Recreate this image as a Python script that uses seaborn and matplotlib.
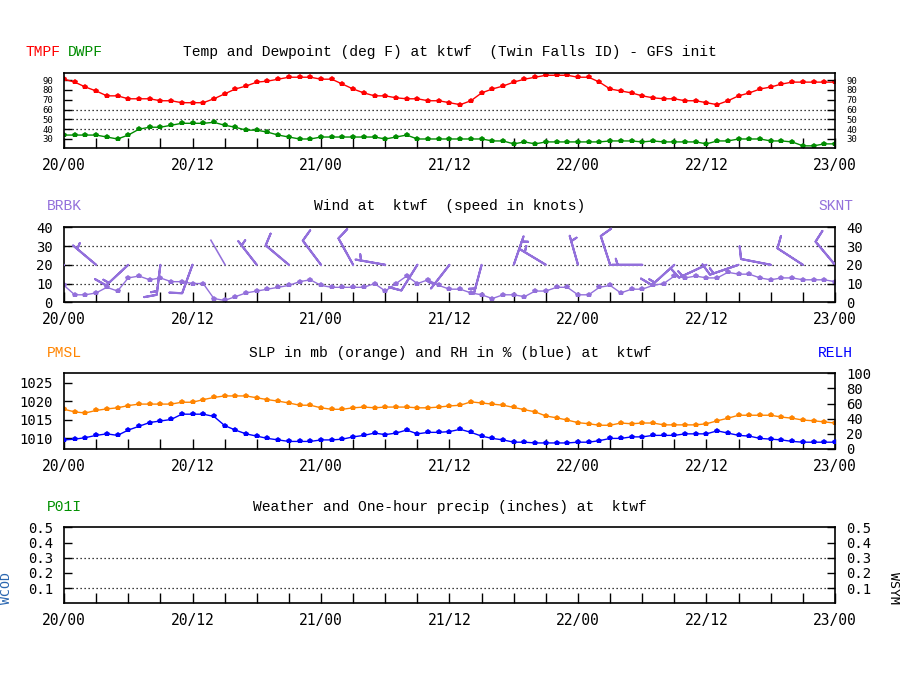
import numpy as np
import matplotlib
matplotlib.use("Agg")
import matplotlib.pyplot as plt
import seaborn as sns

# ---------------- data ----------------
hours = list(range(73))
tick_hours = [0, 12, 24, 36, 48, 60, 72]
tick_labels = ["20/00", "20/12", "21/00", "21/12", "22/00", "22/12", "23/00"]

tmpf = [91, 88, 83, 79, 74, 74, 71, 71, 71, 69, 69, 67, 67, 67, 71, 76, 81, 84, 88, 89,
        91, 93, 93, 93, 91, 91, 86, 81, 77, 74, 74, 72, 71, 71, 69, 69, 67, 65, 69, 77,
        81, 84, 88, 91, 93, 95, 95, 95, 93, 93, 88, 81, 79, 77, 74, 72, 71, 71, 69, 69,
        67, 65, 69, 74, 77, 81, 83, 86, 88, 88, 88, 88, 88]
dwpf = [34, 34, 34, 34, 32, 30, 34, 40, 42, 42, 44, 46, 46, 46, 47, 44, 42, 39, 39, 37,
        34, 32, 30, 30, 32, 32, 32, 32, 32, 32, 30, 32, 34, 30, 30, 30, 30, 30, 30, 30,
        28, 28, 25, 27, 25, 27, 27, 27, 27, 27, 27, 28, 28, 28, 27, 28, 27, 27, 27, 27,
        25, 28, 28, 30, 30, 30, 28, 28, 27, 23, 23, 25, 25]
sknt = [9, 4, 4, 5, 8, 6, 13, 14, 12, 13, 11, 11, 10, 10, 2, 1, 3, 5, 6, 7,
        8, 9, 11, 12, 9, 8, 8, 8, 8, 10, 6, 10, 14, 10, 12, 9, 7, 7, 5, 4,
        2, 4, 4, 3, 6, 6, 8, 8, 4, 4, 8, 9, 5, 7, 7, 9, 10, 14, 13, 14,
        13, 13, 16, 15, 15, 13, 12, 13, 13, 12, 12, 12, 11]
# wind direction (deg, from) for the barbs plotted every 3 hours
wdir_3h = [270, 310, 227, 187, 200, 330, 322, 310, 323, 331, 280, 212, 218,
           195, 19, 301, 344, 342, 270, 228, 245, 251, 281, 303, 320]
pmsl = [1017.8, 1017.1, 1016.8, 1017.5, 1017.9, 1018.2, 1018.8, 1019.2, 1019.2, 1019.2,
        1019.2, 1019.7, 1019.7, 1020.4, 1021.0, 1021.4, 1021.4, 1021.4, 1020.9, 1020.4,
        1020.0, 1019.5, 1018.9, 1018.9, 1018.2, 1017.8, 1017.8, 1018.2, 1018.4, 1018.2,
        1018.4, 1018.4, 1018.4, 1018.2, 1018.2, 1018.4, 1018.7, 1018.9, 1019.8, 1019.5,
        1019.2, 1018.9, 1018.3, 1017.7, 1017.1, 1016.0, 1015.5, 1014.9, 1014.2, 1013.9,
        1013.5, 1013.5, 1014.1, 1013.9, 1014.1, 1014.1, 1013.6, 1013.6, 1013.6, 1013.6,
        1013.9, 1014.7, 1015.4, 1016.2, 1016.2, 1016.2, 1016.2, 1015.7, 1015.4, 1014.9,
        1014.7, 1014.4, 1014.1]
relh = [12, 13, 15, 18, 20, 18, 25, 30, 35, 37, 39, 46, 46, 46, 43, 31, 25, 20, 17, 14,
        12, 10, 10, 10, 12, 12, 13, 16, 18, 21, 19, 21, 25, 20, 22, 22, 23, 26, 22, 17,
        14, 12, 9, 9, 8, 8, 8, 8, 9, 9, 11, 14, 14, 16, 16, 18, 18, 18, 20, 20,
        20, 24, 21, 18, 17, 14, 13, 12, 10, 9, 9, 9, 9]
# one-hour precip: none forecast (panel empty)
p01i = []

temp_ticks = [30, 40, 50, 60, 70, 80, 90]
wind_ticks = [0, 10, 20, 30, 40]
slp_ticks = [1010, 1015, 1020, 1025]
rh_ticks = [0, 20, 40, 60, 80, 100]
pcp_ticks = [0.1, 0.2, 0.3, 0.4, 0.5]

# ---------------- style ----------------
sns.set_style("white")
plt.rcParams["font.family"] = ["DejaVu Sans Mono"]
TITLE_FONT = ["Liberation Mono", "DejaVu Sans Mono"]

RED = "#ff0000"
GREEN = "#008c00"
PURPLE = "#9370db"
ORANGE = "#ff8400"
BLUE = "#0000ff"
WCOD_C = "#2a66b0"

W, H = 900, 700
fig = plt.figure(figsize=(9, 7), dpi=100)
fig.patch.set_facecolor("white")


def panel(top, bottom):
    return fig.add_axes([64 / W, 1 - bottom / H, 771 / W, (bottom - top) / H])


def style(ax, ylim, yticks, ysize=10):
    ax.set_xlim(0, 72)
    ax.set_ylim(*ylim)
    ax.set_xticks(tick_hours)
    ax.set_xticklabels(tick_labels)
    ax.set_xticks(list(range(0, 73, 3)), minor=True)
    ax.set_yticks(yticks)
    ax.tick_params(axis="x", which="both", direction="in", length=7, width=1,
                   bottom=True, top=False, labelsize=10.5, pad=7, colors="black")
    ax.tick_params(axis="y", which="both", direction="in", length=6, width=1,
                   left=True, right=False, labelsize=ysize, pad=8, colors="black")
    for s in ax.spines.values():
        s.set_color("black")
        s.set_linewidth(1.2)
    ax.set_xlabel("")
    ax.set_ylabel("")
    ax.set_facecolor("white")


def twin(ax, ylim, yticks, ysize=10):
    t = ax.twinx()
    t.set_ylim(*ylim)
    t.set_yticks(yticks)
    t.tick_params(axis="y", direction="in", length=6, width=1, right=True,
                  labelsize=ysize, pad=8, colors="black")
    t.set_ylabel("")
    for s in t.spines.values():
        s.set_visible(False)
    return t


def dotted(ax, levels):
    for lv in levels:
        ax.axhline(lv, color="black", lw=0.9, ls=(0, (1, 2.2)), zorder=0.5)


def ftext(x, y, s, **kw):
    kw.setdefault("family", TITLE_FONT)
    kw.setdefault("fontsize", 10.5)
    kw.setdefault("va", "center")
    fig.text(x / W, 1 - y / H, s, **kw)


line_kw = dict(marker="p", markersize=4.2, markeredgewidth=0, linewidth=1)

# ---------------- panel 1: temperature / dewpoint ----------------
ax1 = panel(73.3, 148.3)
sns.lineplot(x=hours, y=tmpf, ax=ax1, color=RED, **line_kw)
sns.lineplot(x=hours, y=dwpf, ax=ax1, color=GREEN, **line_kw)
dotted(ax1, [40, 50, 60])
style(ax1, (20.5, 97), temp_ticks, ysize=6.5)
twin(ax1, (20.5, 97), temp_ticks, ysize=6.5)
ftext(25, 52, "TMPF", color=RED)
ftext(68, 52, "DWPF", color=GREEN)
ftext(450, 52, "Temp and Dewpoint (deg F) at ktwf  (Twin Falls ID) - GFS init",
      ha="center", color="black")

# ---------------- panel 2: wind ----------------
ax2 = panel(227.3, 302.3)
dotted(ax2, [10, 20, 30])
sns.lineplot(x=hours, y=sknt, ax=ax2, color=PURPLE, **line_kw)
BARB_LEVEL = 20
bx = np.array(hours[::3], float)
bs = np.array(sknt[::3], float)
bd = np.deg2rad(np.array(wdir_3h, float))
by = np.full(len(bx), BARB_LEVEL, float)
ax2.barbs(bx, by, -bs * np.sin(bd), -bs * np.cos(bd), length=6.6,
          color=PURPLE, linewidth=1.5, sizes=dict(emptybarb=0.0),
          barb_increments=dict(half=5, full=10, flag=50), zorder=3)
calm = bs < 2.5
if calm.any():
    ax2.quiver(bx[calm], by[calm], np.sin(bd[calm]), np.cos(bd[calm]),
               angles="uv", scale_units="dots", scale=1 / 30.0, units="dots",
               width=1.6, headwidth=0, headlength=0, headaxislength=0,
               pivot="tail", color=PURPLE, zorder=3)
style(ax2, (0, 40), wind_ticks)
twin(ax2, (0, 40), wind_ticks)
ftext(47, 206, "BRBK", color=PURPLE)
ftext(853, 206, "SKNT", color=PURPLE, ha="right")
ftext(450, 206, "Wind at  ktwf  (speed in knots)", ha="center", color="black")

# ---------------- panel 3: SLP / RH ----------------
ax3 = panel(373.3, 449.0)
sns.lineplot(x=hours, y=pmsl, ax=ax3, color=ORANGE, **line_kw)
style(ax3, (1007.1, 1027.5), slp_ticks)
t3 = twin(ax3, (0, 100), rh_ticks)
sns.lineplot(x=hours, y=relh, ax=t3, color=BLUE, **line_kw)
t3.set_ylabel("")
t3.set_ylim(0, 100)
ftext(47, 353, "PMSL", color=ORANGE)
ftext(853, 353, "RELH", color=BLUE, ha="right")
ftext(450, 353, "SLP in mb (orange) and RH in % (blue) at  ktwf",
      ha="center", color="black")

# ---------------- panel 4: weather / precip ----------------
ax4 = panel(527.3, 603.3)
if len(p01i):
    sns.lineplot(x=hours[:len(p01i)], y=p01i, ax=ax4, color=GREEN, **line_kw)
dotted(ax4, [0.1, 0.3])
style(ax4, (0, 0.5), pcp_ticks)
twin(ax4, (0, 0.5), pcp_ticks)
ftext(47, 507, "P01I", color="#009000")
ftext(450, 507, "Weather and One-hour precip (inches) at  ktwf",
      ha="center", color="black")
ftext(7, 588, "WCOD", color=WCOD_C, rotation=90, ha="center",
      family=["DejaVu Sans Mono"], fontsize=9.5)
ftext(893, 588, "WSYM", color="black", rotation=270, ha="center",
      family=["DejaVu Sans Mono"], fontsize=9.5)

fig.savefig("out.png", dpi=100, facecolor="white")
